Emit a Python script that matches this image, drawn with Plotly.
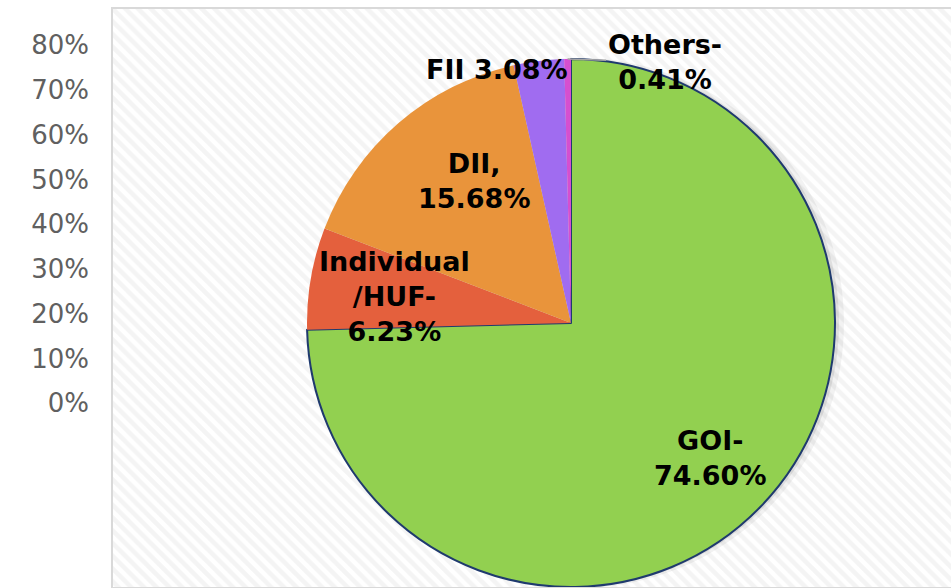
import numpy as np
import plotly.graph_objects as go

# shareholding data
labels = ["GOI", "Individual /HUF", "DII", "FII", "Others"]
values = [74.60, 6.23, 15.68, 3.08, 0.41]
label_text = ["GOI-<br>74.60%", "Individual<br>/HUF-<br>6.23%", "DII,<br>15.68%", "FII 3.08%", "Others-<br>0.41%"]
colors = ["#92d050", "#e4603d", "#e9943b", "#a06cf0", "#d64fcf"]

# left value axis left over from the original chart
tick_values = [0, 10, 20, 30, 40, 50, 60, 70, 80]
tick_labels = ["0%", "10%", "20%", "30%", "40%", "50%", "60%", "70%", "80%"]
y_range = [-41.3, 88.3]

# layout in pixels
W, H = 951, 588
ML, MT = 112, 8
PW, PH = W - ML, H - MT
CX, CY, R = 571, 323, 264
LABEL_FONT = dict(family="DejaVu Sans", size=27, color="black", weight="bold")


def to_paper(px, py):
    return (px - ML) / PW, (H - py) / PH


def pie_domain(cx, cy, r):
    x0, y1 = to_paper(cx - r, cy - r)
    x1, y0 = to_paper(cx + r, cy + r)
    clip = lambda v: min(max(v, 0), 1)
    return dict(x=[clip(x0), clip(x1)], y=[clip(y0), clip(y1)])


fig = go.Figure()

# striped plot background
fig.add_trace(go.Bar(
    x=[0.5], y=[y_range[1] - y_range[0]], base=[y_range[0]], width=[1],
    marker=dict(color="white", line=dict(width=0),
                pattern=dict(shape="\\", fgcolor="#e9e9e9", bgcolor="white", size=9, solidity=0.5)),
    hoverinfo="skip", showlegend=False,
))

# soft shadow under the pie
for dx, dy, extra, alpha in [(8, 0, 1, 0.05), (4, 0, 0, 0.08)]:
    fig.add_trace(go.Pie(
        values=[sum(values)], marker=dict(colors=[f"rgba(0,0,0,{alpha})"], line=dict(width=0)),
        domain=pie_domain(CX + dx, CY + dy, R + extra), textinfo="none", hoverinfo="skip",
        showlegend=False, sort=False,
    ))

fig.add_trace(go.Pie(
    labels=labels, values=values, sort=False, direction="clockwise", rotation=0,
    marker=dict(colors=colors, line=dict(color=["#1f3a6e", "rgba(0,0,0,0)", "rgba(0,0,0,0)",
                                                "rgba(0,0,0,0)", "rgba(0,0,0,0)"],
                                         width=[2, 0, 0, 0, 0])),
    domain=pie_domain(CX, CY, R), textinfo="none", showlegend=False,
))

# label placement: radius fraction + small pixel nudges
label_r = [0.735, 0.68, 0.66, 0.97, 1.0]
label_shift = [(0, 0), (0, -4), (17, 10), (-43, -1), (0, 0)]
cum = np.cumsum([0] + values)
mid = (cum[:-1] + cum[1:]) / 2 / sum(values) * 2 * np.pi

for i, txt in enumerate(label_text):
    px = CX + label_r[i] * R * np.sin(mid[i])
    py = CY - label_r[i] * R * np.cos(mid[i])
    x, y = to_paper(px, py)
    if labels[i] == "Others":
        fig.add_annotation(x=x, y=y, xref="paper", yref="paper", text=txt, showarrow=True,
                           ax=97, ay=3, arrowhead=0, arrowwidth=1.5, arrowcolor="#a6a6a6",
                           font=LABEL_FONT)
    else:
        fig.add_annotation(x=x, y=y, xref="paper", yref="paper", text=txt, showarrow=False,
                           xanchor="center", yanchor="middle",
                           xshift=label_shift[i][0], yshift=label_shift[i][1],
                           font=LABEL_FONT)

# plot area border
fig.add_shape(type="rect", xref="paper", yref="paper", x0=0, x1=1.2, y0=0, y1=1,
              line=dict(color="#d9d9d9", width=2), layer="above")

fig.update_layout(
    width=W, height=H,
    margin=dict(l=ML, r=0, t=MT, b=0),
    paper_bgcolor="white", plot_bgcolor="white",
    xaxis=dict(range=[0, 1], visible=False, fixedrange=True),
    yaxis=dict(range=y_range, tickvals=tick_values, ticktext=tick_labels, showgrid=False,
               zeroline=False, showline=False, ticks="", ticklabelstandoff=22,
               tickfont=dict(family="DejaVu Sans", size=26, color="#606060")),
    bargap=0,
)

fig.write_html("out.html", config={"displayModeBar": False},
               post_script="document.body.style.margin='0';")
